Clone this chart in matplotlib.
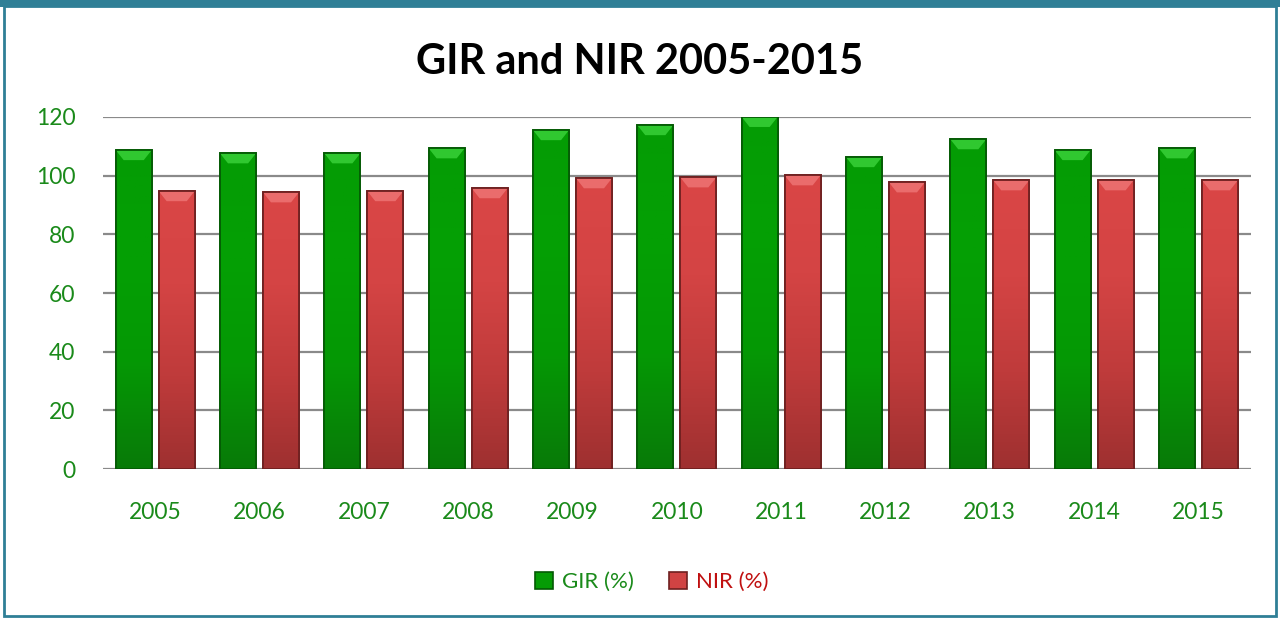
import matplotlib
matplotlib.use("Agg")
import matplotlib.pyplot as plt
import numpy as np
from matplotlib.patches import Rectangle, Polygon
from matplotlib.colors import LinearSegmentedColormap

years = ["2005", "2006", "2007", "2008", "2009", "2010", "2011", "2012", "2013", "2014", "2015"]
gir = [108.7, 107.6, 107.6, 109.3, 115.5, 117.2, 120.0, 106.3, 112.4, 108.7, 109.3]
nir = [94.7, 94.3, 94.7, 95.7, 99.1, 99.4, 100.1, 97.7, 98.4, 98.4, 98.4]
yticks = [0, 20, 40, 60, 80, 100, 120]

plt.rcParams['font.family'] = ['Lato', 'DejaVu Sans']

fig = plt.figure(figsize=(12.8, 6.19), dpi=100)
ax = fig.add_axes([0.0805, 0.2423, 0.8965, 0.5687])

x = np.arange(len(years))
w = 0.344
off = 0.206

green_cmap = LinearSegmentedColormap.from_list("g", ["#087a08", "#059805", "#04a004", "#049c04"])
red_cmap = LinearSegmentedColormap.from_list("r", ["#9e3030", "#bf3b3b", "#d44444", "#da4646"])

grad = np.linspace(0, 1, 256).reshape(-1, 1)

def draw(xs, vals, cmap, edge, label, face, capcol):
    bars = ax.bar(xs, vals, width=w, color=face, edgecolor=edge, linewidth=1.2,
                  label=label, zorder=3)
    for b in bars:
        bx, by = b.get_x(), b.get_y()
        bw, bh = b.get_width(), b.get_height()
        im = ax.imshow(grad, cmap=cmap, aspect='auto', origin='lower',
                       extent=[bx, bx + bw, by, by + bh], zorder=3.5)
        im.set_clip_path(b)
        top = by + bh
        cap = Polygon([(bx, top), (bx + bw, top), (bx + bw * 0.78, top - 3.4),
                       (bx + bw * 0.22, top - 3.4)], closed=True,
                      facecolor=capcol, alpha=0.75, edgecolor='none', zorder=3.6)
        ax.add_patch(cap)
        ax.add_patch(Rectangle((bx, by), bw, bh, facecolor='none', edgecolor=edge,
                               linewidth=1.3, zorder=3.7))
    return bars

draw(x - off, gir, green_cmap, "#045a04", "GIR (%)", "#059c05", "#3fd83f")
draw(x + off, nir, red_cmap, "#6e2020", "NIR (%)", "#d04343", "#f07a7a")

ax.set_xlim(-0.5, len(years) - 0.5)
ax.set_ylim(0, 120)
ax.set_yticks(yticks)
ax.set_xticks(x)
ax.set_xticklabels(years)
ax.yaxis.grid(True, color="#8a8a8a", linewidth=1.6, zorder=0)
ax.set_axisbelow(True)
for s in ax.spines.values():
    s.set_visible(False)
ax.axhline(0, color="#8a8a8a", linewidth=2, zorder=2)
ax.tick_params(axis='both', length=0, labelsize=16.5, labelcolor="#1a8a1a")
ax.tick_params(axis='y', pad=20)
ax.tick_params(axis='x', pad=24)

fig.text(0.5, 0.9, "GIR and NIR 2005-2015", ha='center', va='center',
         fontsize=30, fontweight='bold', color='black')

leg = ax.legend(loc='upper center', bbox_to_anchor=(0.478, -0.235), ncol=2, frameon=False,
                fontsize=16, handlelength=0.8, handleheight=0.8, columnspacing=1.6,
                handletextpad=0.4)
for t, c in zip(leg.get_texts(), ["#1a8a1a", "#c01010"]):
    t.set_color(c)

# border around chart
fig.patches.append(Rectangle((0.003, 0.005), 0.994, 0.985, transform=fig.transFigure,
                             fill=False, edgecolor="#2f7f96", linewidth=2))
fig.patches.append(Rectangle((0.0, 0.988), 1.0, 0.012, transform=fig.transFigure,
                             facecolor="#2f7f96", edgecolor='none'))

fig.savefig("out.png", dpi=100)
